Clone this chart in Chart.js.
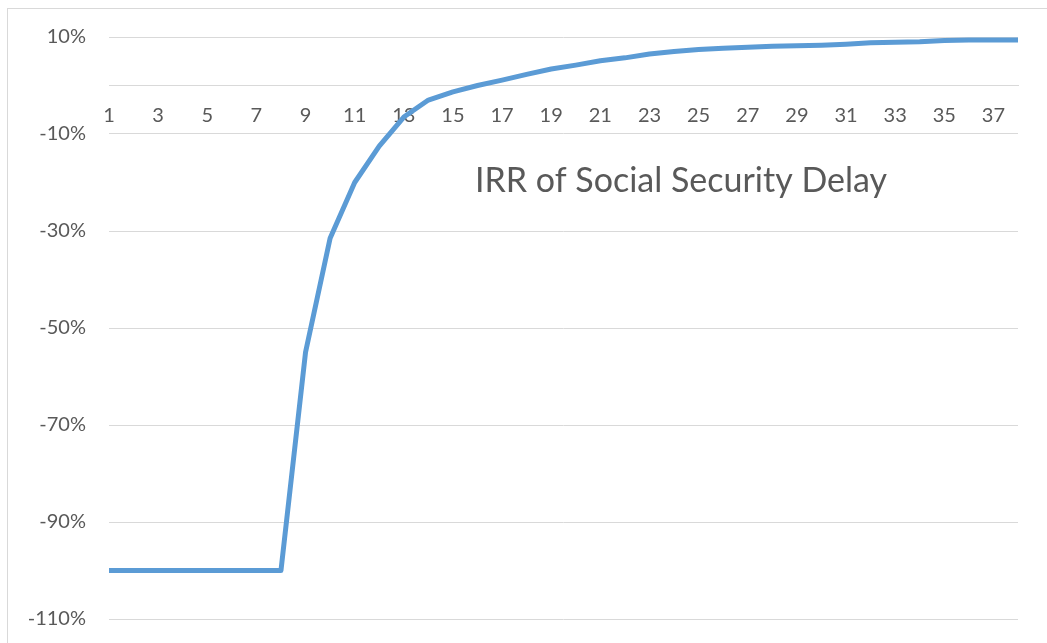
<!DOCTYPE html>
<html>
<head>
<meta charset="utf-8">
<script src="https://cdn.jsdelivr.net/npm/chart.js@4.4.1/dist/chart.umd.min.js"></script>
<style>
  html, body { margin: 0; padding: 0; background: #fff; overflow: hidden; }
  #frame {
    position: absolute; left: 7px; top: 8px; width: 1100px; height: 700px;
    border: 1px solid #d9d9d9; box-sizing: border-box;
  }
  #wrap { position: absolute; left: 0; top: 0; width: 1047px; height: 654px; }
</style>
</head>
<body>
<div id="frame"></div>
<div id="wrap"><canvas id="irrChart" width="1047" height="654"></canvas></div>
<script>
// years of delay (categories)
const years = [];
for (let i = 1; i <= 38; i++) years.push(String(i));

// IRR (%)
const irr = [
  -100, -100, -100, -100, -100, -100, -100, -100,
  -55, -31.5, -20, -12.5, -6.5, -3, -1.3, 0,
  1.1, 2.3, 3.4, 4.2, 5.1, 5.7, 6.5, 7.0,
  7.4, 7.7, 7.9, 8.1, 8.2, 8.3, 8.5, 8.8,
  8.9, 9.0, 9.3, 9.4, 9.4, 9.4,
];

const yTicks = [10, -10, -30, -50, -70, -90, -110];
const chartTitle = 'IRR of Social Security Delay';

const FONT = 'Lato, "Open Sans", sans-serif';
const TEXT = '#595959';
const GRID = '#d9d9d9';

const titlePlugin = {
  id: 'innerTitle',
  afterDraw(chart) {
    const ctx = chart.ctx;
    ctx.save();
    ctx.font = '34px ' + FONT;
    ctx.fillStyle = TEXT;
    ctx.textAlign = 'center';
    ctx.textBaseline = 'alphabetic';
    ctx.fillText(chartTitle, 681, 192);
    ctx.restore();
  },
};

new Chart(document.getElementById('irrChart'), {
  type: 'line',
  plugins: [titlePlugin],
  data: {
    labels: years,
    datasets: [
      {
        label: chartTitle,
        data: irr,
        borderColor: '#5B9BD5',
        borderWidth: 5,
        pointRadius: 0,
        tension: 0,
        fill: false,
        borderJoinStyle: 'round',
      },
    ],
  },
  options: {
    responsive: false,
    animation: false,
    layout: {
      padding: { top: 37, right: 29, bottom: 25, left: 0 },
    },
    plugins: {
      legend: { display: false },
      tooltip: { enabled: false },
      title: { display: false },
    },
    scales: {
      x: {
        type: 'category',
        offset: false,
        position: { y: 0 },
        grid: { display: false, drawTicks: false },
        border: { display: true, color: GRID, width: 1 },
        ticks: {
          autoSkip: false,
          maxRotation: 0,
          padding: 18,
          color: TEXT,
          font: { family: FONT, size: 20 },
          callback: (v, i) => (i % 2 === 0 ? years[i] : ''),
        },
      },
      y: {
        min: -110,
        max: 10,
        afterFit: (s) => { s.width = 109; },
        afterBuildTicks: (s) => { s.ticks = yTicks.map((v) => ({ value: v })); },
        grid: { color: GRID, lineWidth: 1, drawTicks: false },
        border: { display: false },
        ticks: {
          padding: 23,
          color: TEXT,
          font: { family: FONT, size: 20 },
          callback: (v) => v + '%',
        },
      },
    },
  },
});
</script>
</body>
</html>
